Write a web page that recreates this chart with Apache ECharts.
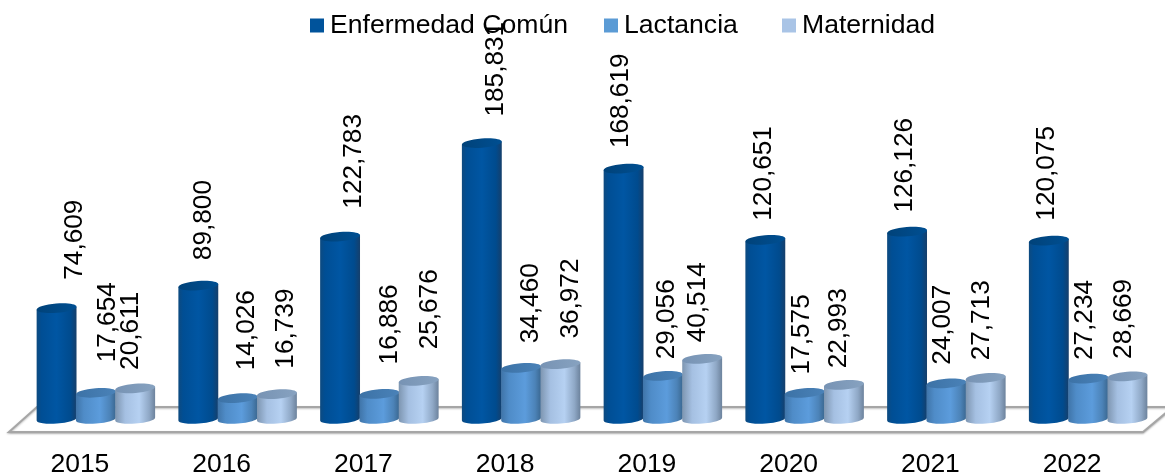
<!DOCTYPE html>
<html><head><meta charset="utf-8">
<style>html,body{margin:0;padding:0;background:#fff}#c{width:1165px;height:475px}</style>
<script src="https://cdn.jsdelivr.net/npm/echarts@6/dist/echarts.min.js"></script>
</head><body><div id="c"></div>
<script>
const years = ['2015','2016','2017','2018','2019','2020','2021','2022'];
const enfermedad = [74609,89800,122783,185831,168619,120651,126126,120075];
const lactancia = [17654,14026,16886,34460,29056,17575,24007,27234];
const maternidad = [20611,16739,25676,36972,40514,22993,27713,28669];

const FONT = '"Liberation Sans", Arial, sans-serif';
const BAR_W = 40, SLOT = 39.3, RX = BAR_W / 2, RY = 4.6, TILT = -4.5 * Math.PI / 180;
const palettes = {
  'Enfermedad Común': {legend:'#00539b', top:['#004279','#004f92'], stops:[[0,'#0e4a7f'],[.12,'#004e94'],[.5,'#0056a3'],[.85,'#004b8e'],[1,'#163f6b']]},
  'Lactancia': {legend:'#5b9bd5', top:['#3c72a6','#4a82b8'], stops:[[0,'#3f74a8'],[.2,'#4f8cc8'],[.6,'#5c9cdc'],[.85,'#4c83b8'],[1,'#3a6790']]},
  'Maternidad': {legend:'#a9c4e6', top:['#7793b4','#87a2c0'], stops:[[0,'#7d95b0'],[.25,'#a5c0e2'],[.6,'#b6d1f2'],[.85,'#8fa8c6'],[1,'#6c829c']]}
};
// Hand placement of the value labels, as in the source: sideways shift from the bar axis and gap above the bar.
const LABEL_DX = 2.2, LABEL_DY = 1.5;
const labelShift = {
  'Enfermedad Común': [15.8,3.5,11.8,12,-4.7,-4,-4.2,-4],
  'Lactancia': [10,7.25,8.5,7.75,2,-4.75,-5.5,-5.25],
  'Maternidad': [-6.3,7,9.2,8.5,-6.3,-7,-5.8,-5.5]
};
const labelGap = {
  'Enfermedad Común': [30,27,29.5,28,22,20.6,20.6,21.5],
  'Lactancia': [32,29.4,31,26,18,20,20,20],
  'Maternidad': [20,27,33,27,18,18,19,19]
};
function grad(stops){
  return new echarts.graphic.LinearGradient(0,0,1,0,stops.map(s=>({offset:s[0],color:s[1]})));
}
function cylinder(name, slot){
  const p = palettes[name];
  return function(params, api){
    const i = api.value(0), v = api.value(1);
    const top = api.coord([i, v]), base = api.coord([i, 0]);
    const cx = base[0] + slot * SLOT;
    const dx = RX * Math.cos(TILT), dy = RX * Math.sin(TILT);
    const d = 'M'+(cx-dx)+' '+(top[1]-dy)+' L'+(cx-dx)+' '+(base[1]-dy)+
      ' A'+RX+' '+RY+' '+(TILT*180/Math.PI)+' 0 0 '+(cx+dx)+' '+(base[1]+dy)+
      ' L'+(cx+dx)+' '+(top[1]+dy)+' Z';
    return {type:'group', children:[
      {type:'path', shape:{pathData:d}, style:{fill:grad(p.stops)}},
      {type:'ellipse', shape:{cx:0,cy:0,rx:RX,ry:RY}, x:cx, y:top[1], rotation:-TILT,
        style:{fill:grad([[0,p.top[0]],[1,p.top[1]]])}},
      {type:'text', x:cx+labelShift[name][i]+LABEL_DX, y:top[1]-labelGap[name][i]+LABEL_DY, rotation:Math.PI/2,
        style:{text:Number(v).toLocaleString('en-US'), font:'26.2px '+FONT, fill:'#000', textAlign:'left', textVerticalAlign:'middle'}}
    ]};
  };
}
function seriesFor(name, values, slot){
  return {name, type:'custom', xAxisIndex:1, yAxisIndex:1, renderItem:cylinder(name, slot),
    encode:{x:0,y:1}, itemStyle:{color:palettes[name].legend}, clip:false,
    data:values.map((v,i)=>[i,v])};
}
function legendFor(name,left){
  return {data:[name], left, top:12, icon:'rect', itemWidth:14, itemHeight:14, selectedMode:false, padding:0,
    textStyle:{fontFamily:FONT, fontSize:26.6, color:'#000', padding:[0,0,0,1]}};
}
const chart = echarts.init(document.getElementById('c'), null, {renderer:'canvas'});
chart.setOption({
  animation:false, backgroundColor:'#fff',
  legend:[legendFor('Enfermedad Común',310), legendFor('Lactancia',604), legendFor('Maternidad',782)],
  grid:[{left:9,width:1134,top:122,height:310,outerBoundsMode:'none'},{left:25,width:1134,top:122,height:297,outerBoundsMode:'none'}],
  xAxis:[
    {type:'category',gridIndex:0,data:years,axisLine:{show:false},axisTick:{show:false},
     axisLabel:{fontFamily:FONT,fontSize:26.5,color:'#000',margin:19}},
    {type:'category',gridIndex:1,data:years,show:false}
  ],
  yAxis:[
    {type:'value',gridIndex:0,min:0,max:200000,show:false},
    {type:'value',gridIndex:1,min:0,max:200000,show:false}
  ],
  graphic:[{type:'polygon',z:-1,shape:{points:[[9,432],[1143,432],[1173,407],[37,407]]},
    style:{fill:'#fff',stroke:'#a6a6a6',lineWidth:2,shadowColor:'rgba(0,0,0,0.25)',shadowBlur:2,shadowOffsetY:1}}],
  series:[seriesFor('Enfermedad Común',enfermedad,-1),seriesFor('Lactancia',lactancia,0),seriesFor('Maternidad',maternidad,1)]
});
</script></body></html>
